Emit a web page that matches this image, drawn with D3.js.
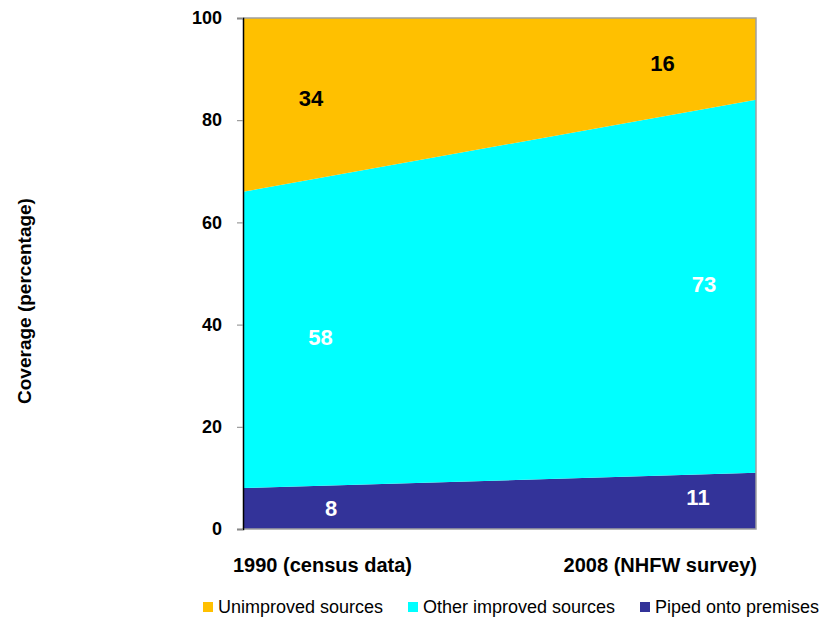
<!DOCTYPE html>
<html><head><meta charset="utf-8">
<script src="https://cdn.jsdelivr.net/npm/d3@7/dist/d3.min.js"></script>
<style>body{margin:0;background:#fff;font-family:"Liberation Sans",Arial,sans-serif}</style>
</head><body><svg id="c" width="821" height="617"></svg>
<script>
const categories = ["1990 (census data)", "2008 (NHFW survey)"];
const seriesNames = ["Piped onto premises", "Other improved sources", "Unimproved sources"];
const piped = [8, 11];
const otherImproved = [58, 73];
const unimproved = [34, 16];
const yTicks = [0, 20, 40, 60, 80, 100];
const colors = ["#333399", "#00FFFF", "#FFC000"];
const labelColors = ["#fff", "#fff", "#000"];

const FONT = "Liberation Sans, Arial, sans-serif";
const svg = d3.select("#c").attr("font-family", FONT);
const m = {l: 243, r: 756, t: 18, b: 529};
const x = d3.scalePoint().domain(categories).range([m.l, m.r]);
const y = d3.scaleLinear().domain([0, 100]).range([m.b, m.t]);

const rows = categories.map((c, i) => ({cat: c, s0: piped[i], s1: otherImproved[i], s2: unimproved[i]}));
const layers = d3.stack().keys(["s0", "s1", "s2"])(rows);

const area = d3.area().x(d => x(d.data.cat)).y0(d => y(d[0])).y1(d => y(d[1]));
svg.selectAll("path.layer").data(layers).join("path")
  .attr("class", "layer").attr("d", area).attr("fill", (d, i) => colors[i]);

// border
svg.append("path").attr("d", `M${m.l},${m.t}H${m.r}V${m.b}H${m.l}`)
  .attr("fill", "none").attr("stroke", "#a0a0a0").attr("stroke-width", 1.5);

// y axis
const ya = svg.append("g").attr("transform", `translate(${m.l},0)`)
  .call(d3.axisLeft(y).tickValues(yTicks).tickSize(6).tickPadding(15));
ya.select(".domain").attr("stroke", "#000").attr("stroke-width", 1.5);
ya.selectAll(".tick line").attr("stroke", "#888");
ya.selectAll(".tick text").attr("font-family", FONT)
  .attr("font-size", 18).attr("font-weight", "bold").attr("fill", "#000");

// axis title
svg.append("text").attr("transform", "translate(31,301) rotate(-90)")
  .attr("text-anchor", "middle").attr("font-size", 19).attr("font-weight", "bold").text("Coverage (percentage)");

// category labels
svg.append("text").attr("x", x(categories[0]) - 10).attr("y", 572).attr("text-anchor", "start")
  .attr("font-size", 20).attr("font-weight", "bold").text(categories[0]);
svg.append("text").attr("x", x(categories[1]) + 1).attr("y", 572).attr("text-anchor", "end")
  .attr("font-size", 20).attr("font-weight", "bold").text(categories[1]);

// data labels (pixel nudges to match the original placement)
const nudgeX = [[88, -58], [77.5, -52], [68, -93.5]];
const nudgeY = [[-0.6, -4], [-2.4, -2.3], [-6.4, 4]];
layers.forEach((L, i) => {
  L.forEach((d, j) => {
    svg.append("text").attr("x", x(d.data.cat) + nudgeX[i][j])
      .attr("y", y((d[0] + d[1]) / 2) + nudgeY[i][j])
      .attr("dy", "0.36em").attr("text-anchor", "middle")
      .attr("font-size", 22).attr("font-weight", "bold").attr("fill", labelColors[i])
      .text(d.data["s" + i]);
  });
});

// legend
const legendItems = [
  {name: seriesNames[2], color: colors[2], x: 203},
  {name: seriesNames[1], color: colors[1], x: 408},
  {name: seriesNames[0], color: colors[0], x: 640}
];
const lg = svg.append("g");
legendItems.forEach(it => {
  lg.append("rect").attr("x", it.x).attr("y", 602).attr("width", 10).attr("height", 10).attr("fill", it.color);
  lg.append("text").attr("x", it.x + 15).attr("y", 613).attr("font-size", 18).attr("fill", "#000").text(it.name);
});
</script></body></html>
